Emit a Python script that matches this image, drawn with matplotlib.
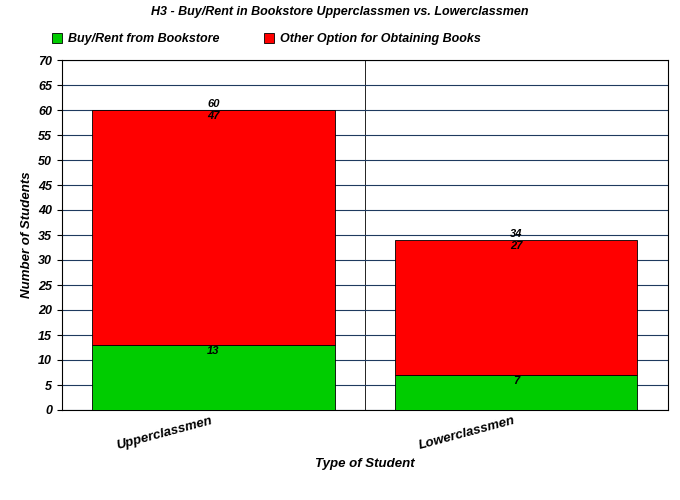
import matplotlib.pyplot as plt

plt.rcParams['font.family'] = ['Liberation Sans', 'DejaVu Sans']

categories = ["Upperclassmen", "Lowerclassmen"]
bookstore = [13, 7]
other = [47, 27]
totals = [b + o for b, o in zip(bookstore, other)]

fig = plt.figure(figsize=(6.8, 5.0), dpi=100)
ax = fig.add_axes([0.091, 0.18, 0.891, 0.70])

x = list(range(len(categories)))
ax.bar(x, bookstore, width=0.8, color="#00cc00", edgecolor="black", linewidth=0.6,
       label="Buy/Rent from Bookstore", zorder=3)
ax.bar(x, other, width=0.8, bottom=bookstore, color="#ff0000", edgecolor="black",
       linewidth=0.6, label="Other Option for Obtaining Books", zorder=3)

lab = dict(ha="center", fontsize=8, fontweight="bold", style="italic", zorder=4)
for i in x:
    ax.text(i, totals[i] + 0.2, str(totals[i]), va="bottom", **lab)
    ax.text(i, totals[i] - 0.2, str(other[i]), va="top", **lab)
    ax.text(i, bookstore[i] - 0.2, str(bookstore[i]), va="top", **lab)

ax.set_xlim(-0.5, 1.5)
ax.set_ylim(0, 70)
ax.set_yticks(range(0, 71, 5))
ax.yaxis.grid(True, color="#1f3a5f", linewidth=0.8, zorder=0)
ax.axvline(0.5, color="black", linewidth=0.6, zorder=1)
ax.set_xticks(x)
ax.set_xticklabels(categories, rotation=15, ha="right", fontweight="bold",
                   style="italic", fontsize=9.5)
for t in ax.get_yticklabels():
    t.set_fontweight("bold")
    t.set_fontstyle("italic")
    t.set_fontsize(9)
ax.tick_params(axis="x", length=0)
ax.set_xlabel("Type of Student", fontweight="bold", style="italic", fontsize=9.5)
ax.set_ylabel("Number of Students", fontweight="bold", style="italic", fontsize=9.5)
for s in ax.spines.values():
    s.set_linewidth(0.8)

fig.text(0.5, 0.975, "H3 - Buy/Rent in Bookstore Upperclassmen vs. Lowerclassmen",
         ha="center", va="center", fontweight="bold", style="italic", fontsize=9)
leg = fig.legend(loc="center left", bbox_to_anchor=(0.06, 0.922), ncol=2, frameon=False,
                 prop=dict(weight="bold", style="italic", size=9),
                 handlelength=0.8, handleheight=0.8, columnspacing=3.5, handletextpad=0.5)

fig.savefig("out.png", dpi=100)
